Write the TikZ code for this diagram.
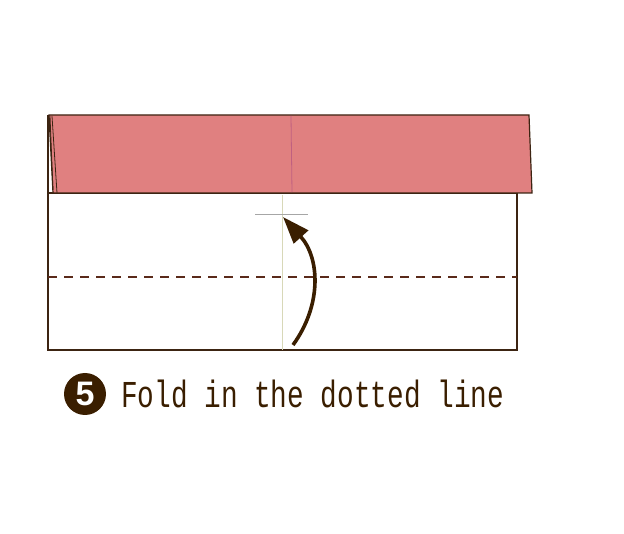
\documentclass[tikz,border=0pt]{standalone}
\usepackage{fontspec}
\setmainfont{Liberation Sans}
\newfontfamily\monofont{Liberation Mono}
\usetikzlibrary{arrows.meta}
\definecolor{outline}{HTML}{3C2412}
\definecolor{pinkfill}{HTML}{E08080}
\definecolor{dashcol}{HTML}{5A2A1A}
\definecolor{beige}{HTML}{D8D8B8}
\definecolor{creasecol}{HTML}{C06080}
\definecolor{textcol}{HTML}{3A1E00}
\tikzset{
  edge/.style={draw=outline, line width=1.2pt},
  foldline/.style={draw=dashcol, line width=1.2pt, dash pattern=on 9pt off 7pt},
  foldarrow/.style={draw=textcol, line width=3.6pt, -{Triangle[length=27pt,width=19pt]}},
}
\begin{document}
\begin{tikzpicture}[x=1pt,y=-1pt]
\useasboundingbox (0,0) rectangle (624,534);
% paper
\path[edge, fill=white] (48,193) rectangle (517,350);
\draw[edge] (48,115) -- (48,350);
% vertical guide
\draw[beige, line width=1pt] (282,195) -- (282,350);
% folded band
\path[edge, fill=pinkfill] (49,115) -- (529,115) -- (532,193) -- (53,193) -- (50,135) -- cycle;
\draw[outline, line width=0.8pt] (52,116) -- (57,193);
\draw[outline, line width=0.8pt] (50,116) -- (53,190);
\draw[creasecol, line width=0.8pt] (291,116) -- (292,192);
% gray mark
\draw[gray!70, line width=1pt] (255,215) -- (308,215);
% dashed fold line
\draw[foldline] (48,277) -- (517,277);
% arrow
\coordinate (s) at (293,345);
\coordinate (t) at (283,217);
\draw[foldarrow] (s) .. controls (322,305) and (320,258) .. (t);
% caption
\node[circle, fill=textcol, minimum size=42pt, inner sep=0pt, text=white, font=\bfseries\fontsize{34}{34}\selectfont] (num) at (85,394) {5};
\node[anchor=west, text=textcol, xscale=0.73, font=\monofont\fontsize{38}{38}\selectfont, inner sep=0pt] (cap) at (121,394) {Fold in the dotted line};
\end{tikzpicture}
\end{document}
